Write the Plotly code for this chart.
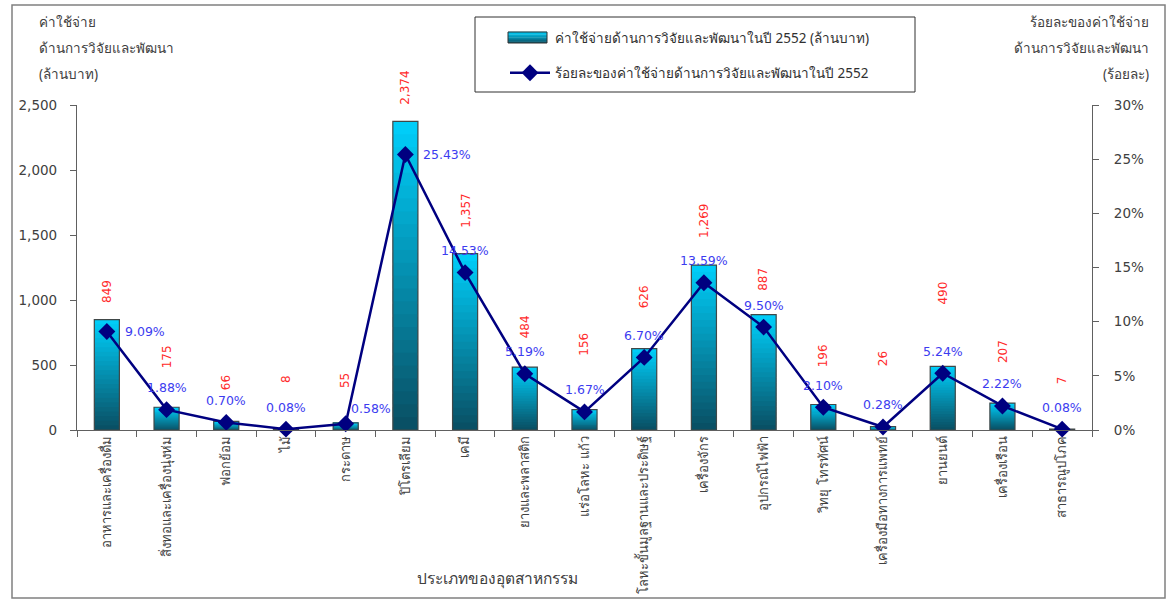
import plotly.graph_objects as go

categories = ["อาหารและเครื่องดื่ม", "สิ่งทอและเครื่องนุ่งห่ม", "ฟอกย้อม", "ไม้", "กระดาษ",
              "ปิโตรเลียม", "เคมี", "ยางและพลาสติก", "แร่อโลหะ แก้ว",
              "โลหะขั้นมูลฐานและประดิษฐ์", "เครื่องจักร", "อุปกรณ์ไฟฟ้า", "วิทยุ โทรทัศน์",
              "เครื่องมือทางการแพทย์", "ยานยนต์", "เครื่องเรือน", "สาธารณูปโภค"]
expense = [849, 175, 66, 8, 55, 2374, 1357, 484, 156, 626, 1269, 887, 196, 26, 490, 207, 7]
percent = [9.09, 1.88, 0.70, 0.08, 0.58, 25.43, 14.53, 5.19, 1.67, 6.70, 13.59, 9.50, 2.10, 0.28, 5.24, 2.22, 0.08]

bar_name = "ค่าใช้จ่ายด้านการวิจัยและพัฒนาในปี 2552 (ล้านบาท)"
line_name = "ร้อยละของค่าใช้จ่ายด้านการวิจัยและพัฒนาในปี 2552"

# label styling (pixel gap between bar top and value label; placement of % labels)
label_gap = [15, 37, 29, 44, 33, 15, 24, 27, 52, 38, 25, 22, 35, 58, 60, 38, 43]
pct_pos = ["right", "top", "top", "top", "topright", "right"] + ["top"] * 11

THAI = "Tahoma, 'Noto Sans', sans-serif"
NUM = "'DejaVu Sans', Verdana, sans-serif"
N = 24
top_rgb = (0, 208, 252)
bot_rgb = (10, 78, 98)

def grad(t):
    return "rgb(%d,%d,%d)" % tuple(int(bot_rgb[k] + (top_rgb[k] - bot_rgb[k]) * t) for k in range(3))

fig = go.Figure()
for i in range(N):
    base = [v * i / N for v in expense]
    seg = [min(v / N * 1.8, v - b) for v, b in zip(expense, base)]
    fig.add_trace(go.Bar(
        x=categories, y=seg, base=base,
        marker=dict(color=grad((i + 0.5) / N), line=dict(width=0)),
        width=0.42, showlegend=False, hoverinfo="skip", yaxis="y"))
fig.add_trace(go.Bar(
    x=categories, y=expense, width=0.42, name=bar_name, showlegend=False,
    marker=dict(color="rgba(0,0,0,0)", line=dict(color="#404848", width=1.2)), yaxis="y"))

# legend entries
fig.add_trace(go.Bar(x=[None], y=[None], name=bar_name, legend="legend",
                     marker=dict(color="rgba(0,0,0,0)", line=dict(width=0))))
fig.add_trace(go.Scatter(
    x=categories, y=[p / 100 for p in percent], yaxis="y2", name=line_name, legend="legend2",
    mode="lines+markers",
    line=dict(color="#000080", width=2.5),
    marker=dict(symbol="diamond", size=13, color="#000080"),
    cliponaxis=False))

pfont = dict(color="#3c3cf0", size=12.5, family=NUM)
for cat, p, pos in zip(categories, percent, pct_pos):
    kw = dict(x=cat, y=p / 100, xref="x", yref="y2", text="%.2f%%" % p, showarrow=False, font=pfont)
    if pos == "right":
        kw.update(xanchor="left", yanchor="middle", xshift=16)
    elif pos == "topright":
        kw.update(xanchor="left", yanchor="middle", xshift=3, yshift=15)
    else:
        kw.update(xanchor="center", yanchor="middle", yshift=22)
    fig.add_annotation(**kw)

for cat, v, g in zip(categories, expense, label_gap):
    fig.add_annotation(x=cat, y=v, xref="x", yref="y", text="{:,}".format(v),
                       textangle=-90, showarrow=False, yanchor="bottom", yshift=g,
                       font=dict(color="#ff2a2a", size=12, family=NUM))

L, R, T, B = 77, 1092, 105, 430
W, H = R - L, B - T
def px(x):
    return (x - L) / W
def py(y):
    return (B - y) / H

tfont = dict(color="#404040", size=13.5, family=THAI)
for i, s in enumerate(["ค่าใช้จ่าย", "ด้านการวิจัยและพัฒนา", "(ล้านบาท)"]):
    fig.add_annotation(x=px(37), y=py(22 + 26 * i), xref="paper", yref="paper", text=s,
                       showarrow=False, xanchor="left", yanchor="middle", font=tfont)
for i, s in enumerate(["ร้อยละของค่าใช้จ่าย", "ด้านการวิจัยและพัฒนา", "(ร้อยละ)"]):
    fig.add_annotation(x=px(1151), y=py(22 + 26 * i), xref="paper", yref="paper", text=s,
                       showarrow=False, xanchor="right", yanchor="middle", font=tfont)
fig.add_annotation(x=px(497), y=py(578), xref="paper", yref="paper", text="ประเภทของอุตสาหกรรม",
                   showarrow=False, xanchor="center", yanchor="middle",
                   font=dict(color="#404040", size=15.5, family=THAI))

# outer frame and legend frame
fig.add_shape(type="rect", xref="paper", yref="paper", x0=px(12), x1=px(1165), y0=py(598), y1=py(5),
              line=dict(color="#808080", width=1.5), fillcolor="rgba(0,0,0,0)", layer="below")
fig.add_shape(type="rect", xref="paper", yref="paper", x0=px(475), x1=px(915), y0=py(92), y1=py(17),
              line=dict(color="#303030", width=1), fillcolor="white", layer="below")
# legend bar swatch (gradient)
NS = 8
for i in range(NS):
    fig.add_shape(type="rect", xref="paper", yref="paper", x0=px(508), x1=px(547),
                  y0=py(43 - 11 * i / NS), y1=py(43 - 11 * (i + 1) / NS - 0.3),
                  line=dict(width=0), fillcolor=grad((i + 0.5) / NS), layer="above")
fig.add_shape(type="rect", xref="paper", yref="paper", x0=px(508), x1=px(547), y0=py(43), y1=py(32),
              line=dict(color="#303030", width=1), fillcolor="rgba(0,0,0,0)", layer="above")

axis_common = dict(showgrid=False, zeroline=False, showline=True, linecolor="#606060", linewidth=1.2,
                   ticks="outside", ticklen=6, tickcolor="#606060", automargin=False,
                   tickfont=dict(color="#404040", size=13.5, family=NUM))
fig.update_layout(
    width=1175, height=604, autosize=False,
    margin=dict(l=L, r=1175 - R, t=T, b=604 - B, autoexpand=False),
    paper_bgcolor="white", plot_bgcolor="white",
    barmode="overlay", bargap=0.58,
    xaxis=dict(type="category", tickangle=-90, tickson="boundaries", showgrid=False, automargin=False,
               showline=True, linecolor="#606060", linewidth=1.2, ticks="outside", ticklen=6,
               tickcolor="#606060", tickfont=dict(color="#404040", size=13, family=THAI),
               range=[-0.5, len(categories) - 0.5]),
    yaxis=dict(range=[0, 2500], dtick=500, tickformat=",", ticklabelstandoff=10, **axis_common),
    yaxis2=dict(range=[0, 0.30], dtick=0.05, tickformat=".0%", overlaying="y", side="right",
                ticklabelstandoff=12, **axis_common),
    legend=dict(x=px(505), y=py(38), xanchor="left", yanchor="middle", bgcolor="rgba(0,0,0,0)",
                font=dict(color="#303030", size=13.5, family=THAI), itemwidth=40),
    legend2=dict(x=px(505), y=py(73), xanchor="left", yanchor="middle", bgcolor="rgba(0,0,0,0)",
                 font=dict(color="#303030", size=13.5, family=THAI), itemwidth=40),
    showlegend=True,
)
fig.write_html("out.html")
